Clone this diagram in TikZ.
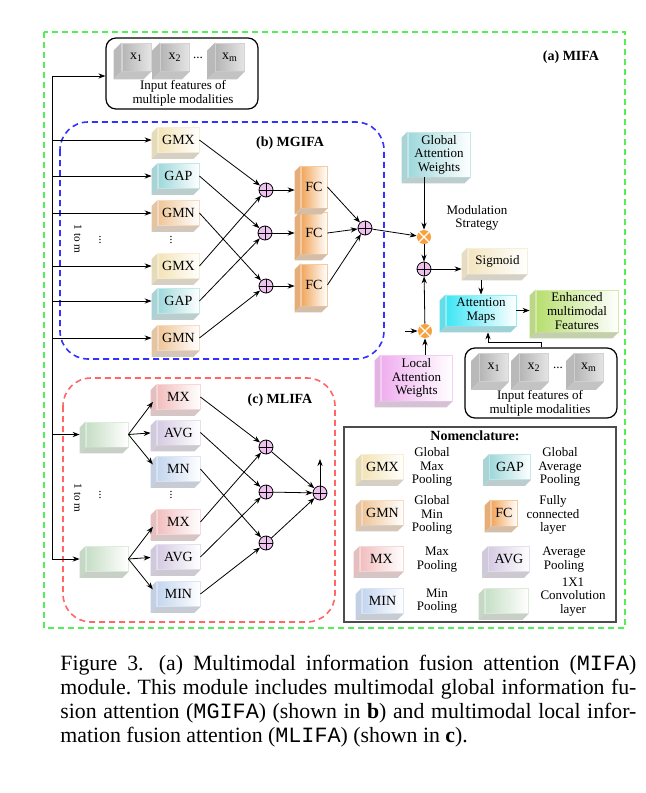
\documentclass[tikz,border=0pt]{standalone}
\usepackage{fontspec}
\setmainfont{Liberation Serif}
\setmonofont{Liberation Mono}
\usetikzlibrary{arrows.meta}

\definecolor{cGMX}{HTML}{F3E3B5}
\definecolor{cGAP}{HTML}{9ED8DB}
\definecolor{cGMN}{HTML}{EFC596}
\definecolor{cFC}{HTML}{F2A55A}
\definecolor{cMX}{HTML}{F2BDBD}
\definecolor{cAVG}{HTML}{D5CAE3}
\definecolor{cMN}{HTML}{C3D5EF}
\definecolor{cCV}{HTML}{C5DEC5}
\definecolor{cIN}{HTML}{B5B5B5}
\definecolor{cGW}{HTML}{9ED8DB}
\definecolor{cSIG}{HTML}{F3E5BF}
\definecolor{cAM}{HTML}{3FE6F5}
\definecolor{cEN}{HTML}{B7DE6E}
\definecolor{cLW}{HTML}{EFAEEF}
\definecolor{cPL}{HTML}{F0C0F0}
\definecolor{cMU}{HTML}{F7A23E}
\definecolor{cOUT}{HTML}{55EE55}

\newcommand\lblfont{\fontsize{7}{8}\selectfont}
\newcommand\txtfont{\fontsize{6.5}{6.8}\selectfont}
% side and bottom face of a box
\newcommand\boxfaces[3][3pt]{%
  \fill[#3!85!gray!85] (#2.north west) -- ++(-#1,-#1) -- ([shift={(-#1,-#1)}]#2.south west) -- (#2.south west) -- cycle;
  \fill[#3!50!gray!60] (#2.south west) -- ++(-#1,-#1) -- ([shift={(-#1,-#1)}]#2.south east) -- (#2.south east) -- cycle;}

\tikzset{
  blk/.style={rectangle, draw=#1!60!white, left color=#1, right color=white, inner sep=0pt, align=center, font=\lblfont},
  pool/.style={minimum width=20.5pt, minimum height=12.5pt},
  fcbox/.style={blk=cFC, minimum width=13pt, minimum height=21pt},
  cube/.style={blk=cIN, right color=cIN!35!white, minimum width=14.5pt, minimum height=14pt},
  inbox/.style={draw, rounded corners=5pt, line width=0.6pt, minimum width=76pt},
  plus/.style={circle, draw, fill=cPL, minimum size=7pt, inner sep=0pt,
    path picture={\draw (path picture bounding box.north) -- (path picture bounding box.south)
      (path picture bounding box.west) -- (path picture bounding box.east);}},
  mul/.style={circle, fill=cMU, minimum size=7pt, inner sep=0pt,
    path picture={\draw[white, line width=0.6pt] (path picture bounding box.north west) -- (path picture bounding box.south east)
      (path picture bounding box.north east) -- (path picture bounding box.south west);}},
  ttl/.style={font=\fontsize{7}{8}\selectfont\bfseries},
  vdots/.style={rotate=90, font=\fontsize{6}{6}\selectfont},
  rangetxt/.style={rotate=-90, font=\fontsize{5.6}{6}\selectfont}
}

\begin{document}
\begin{tikzpicture}[x=0.5pt, y=-0.5pt, >={Stealth[length=3.5pt,width=2.6pt]}, font=\txtfont]
  \useasboundingbox (0,0) rectangle (646,793);

  % frames
  \draw[cOUT, dash pattern=on 3pt off 2pt, line width=1pt] (44,32) rectangle (625,628);
  \draw[blue!80!white, dash pattern=on 3pt off 2pt, line width=0.8pt, rounded corners=14pt] (60,122) rectangle (384,359);
  \draw[red!60!white, dash pattern=on 3pt off 2pt, line width=0.8pt, rounded corners=14pt] (63,378) rectangle (335,622);
  \draw[gray!60!black, line width=0.8pt] (344,427) rectangle (616,622);

  \node[ttl] (ta) at (571,57) {(a) MIFA};
  \node[ttl] (tb) at (290,143) {(b) MGIFA};
  \node[ttl] (tc) at (280,400) {(c) MLIFA};
  \node[ttl] (tn) at (475,436) {Nomenclature:};

  % input features
  \node[inbox, minimum height=35.5pt] (inA) at (182,73.5) {};
  \node[cube] (xa1) at (136.5,57) {x\textsubscript{1}};
  \node[cube] (xa2) at (175,57) {x\textsubscript{2}};
  \node (da) at (198,58) {...};
  \node[cube] (xam) at (230,57) {x\textsubscript{m}};
  \node[align=center] (la) at (183,93.5) {Input features of\\multiple modalities};

  \node[inbox, minimum height=35pt] (inB) at (541,383) {};
  \node[cube] (xb1) at (494,367.5) {x\textsubscript{1}};
  \node[cube] (xb2) at (534,367.5) {x\textsubscript{2}};
  \node (db) at (558,368) {...};
  \node[cube] (xbm) at (589,367.5) {x\textsubscript{m}};
  \node[align=center] (lb) at (540,403.5) {Input features of\\multiple modalities};

  % MGIFA
  \begin{scope}[every node/.append style={pool}]
    \node[blk=cGMX] (gmxa) at (178.5,140) {GMX};
    \node[blk=cGAP] (gapa) at (178.5,176) {GAP};
    \node[blk=cGMN] (gmna) at (178.5,213) {GMN};
    \node[blk=cGMX] (gmxb) at (178.5,266) {GMX};
    \node[blk=cGAP] (gapb) at (178.5,301) {GAP};
    \node[blk=cGMN] (gmnb) at (178.5,338) {GMN};
  \end{scope}
  \node[vdots] (va1) at (171,240) {...};
  \node[vdots] (va2) at (100,240) {...};
  \node[rangetxt] (ma) at (78,239) {1 to m};
  \node[plus] (pa) at (266,190) {};
  \node[plus] (pb) at (265,233) {};
  \node[plus] (pc) at (266,286) {};
  \node[fcbox] (fca) at (314,187) {FC};
  \node[fcbox] (fcb) at (314,233) {FC};
  \node[fcbox] (fcc) at (314,285) {FC};
  \node[plus] (pd) at (365,228) {};

  % attention part
  \node[blk=cGW, font=\txtfont, minimum width=31pt, minimum height=22.5pt] (gaw) at (439,154.5) {Global\\Attention\\Weights};
  \node[align=center] (mod) at (477,218) {Modulation\\Strategy};
  \node[mul] (mua) at (424,237) {};
  \node[plus] (pe) at (424,269) {};
  \node[blk=cSIG, font=\txtfont, minimum width=29.5pt, minimum height=13pt] (sig) at (497.5,261) {Sigmoid};
  \node[blk=cAM, font=\txtfont, minimum width=35pt, minimum height=15.5pt] (am) at (481,310.5) {Attention\\Maps};
  \node[blk=cEN, font=\txtfont, minimum width=41pt, minimum height=21pt] (enh) at (577,311) {Enhanced\\multimodal\\Features};
  \node[blk=cLW, font=\txtfont, minimum width=35.5pt, minimum height=23pt] (law) at (416.5,378) {Local\\Attention\\Weights};
  \node[mul] (mub) at (425,331) {};
  \coordinate (lin) at (405,331);

  % MLIFA
  \node[blk=cCV, minimum width=21pt, minimum height=12.5pt] (conva) at (107,434.5) {};
  \node[blk=cCV, minimum width=21pt, minimum height=12.5pt] (convb) at (107,559) {};
  \begin{scope}[every node/.append style={minimum width=21.5pt, minimum height=12.5pt}]
    \node[blk=cMX] (mxa) at (178.5,397) {MX};
    \node[blk=cAVG] (avga) at (178.5,432.5) {AVG};
    \node[blk=cMN] (mna) at (178.5,469) {MN};
    \node[blk=cMX] (mxb) at (178.5,522) {MX};
    \node[blk=cAVG] (avgb) at (178.5,557) {AVG};
    \node[blk=cMN] (mnb) at (178.5,594) {MIN};
  \end{scope}
  \node[vdots] (vb1) at (171,495) {...};
  \node[vdots] (vb2) at (100,495) {...};
  \node[rangetxt] (mb) at (78,498) {1 to m};
  \node[plus] (qa) at (266,447) {};
  \node[plus] (qb) at (266,492) {};
  \node[plus] (qc) at (266,543) {};
  \node[plus] (qd) at (320,493) {};
  \coordinate (lout) at (320,459);

  % nomenclature
  \node[blk=cGMX, pool] (lgmx) at (382.5,467) {GMX};
  \node[align=center] at (432,467) {Global\\Max\\Pooling};
  \node[blk=cGAP, pool] (lgap) at (510,467) {GAP};
  \node[align=center] at (560,467) {Global\\Average\\Pooling};
  \node[blk=cGMN, pool] (lgmn) at (382.5,512.5) {GMN};
  \node[align=center] at (432,515) {Global\\Min\\Pooling};
  \node[blk=cFC, minimum width=13pt, minimum height=13pt] (lfc) at (504,513) {FC};
  \node[align=center] at (553,515) {Fully\\connected\\layer};
  \node[blk=cMX, pool, minimum width=21.5pt] (lmx) at (381.5,559) {MX};
  \node[align=center] at (437,559.5) {Max\\Pooling};
  \node[blk=cAVG, pool] (lavg) at (509,559) {AVG};
  \node[align=center] at (564,559.5) {Average\\Pooling};
  \node[blk=cMN, pool] (lmin) at (382.5,601) {MIN};
  \node[align=center] at (437,601) {Min\\Pooling};
  \node[blk=cCV, pool, minimum width=21.5pt] (lconv) at (506.5,601) {};
  \node[align=center] at (573,597) {1X1\\Convolution\\layer};

  % faces of the boxes
  \foreach \n/\c in {gmxa/cGMX, gapa/cGAP, gmna/cGMN, gmxb/cGMX, gapb/cGAP, gmnb/cGMN,
      fca/cFC, fcb/cFC, fcc/cFC, gaw/cGW, sig/cSIG, am/cAM, enh/cEN, law/cLW,
      conva/cCV, convb/cCV, mxa/cMX, avga/cAVG, mna/cMN, mxb/cMX, avgb/cAVG, mnb/cMN,
      lgmx/cGMX, lgap/cGAP, lgmn/cGMN, lfc/cFC, lmx/cMX, lavg/cAVG, lmin/cMN, lconv/cCV}
    {\boxfaces{\n}{\c}}
  \foreach \n in {xa1, xa2, xam, xb1, xb2, xbm}
    {\boxfaces[4pt]{\n}{cIN}}

  % trunk
  \coordinate (t0) at (52,76);
  \draw (t0) -- (t0 |- convb);
  \draw[->] (t0) -- (t0 -| inA.west);
  \begin{scope}[shorten >=3pt]
    \path [->] (t0 |- gmxa) edge (gmxa);
    \path [->] (t0 |- gapa) edge (gapa);
    \path [->] (t0 |- gmna) edge (gmna);
    \path [->] (t0 |- gmxb) edge (gmxb);
    \path [->] (t0 |- gapb) edge (gapb);
    \path [->] (t0 |- gmnb) edge (gmnb);
    \path [->] (t0 |- conva) edge (conva);
    \path [->] (t0 |- convb) edge (convb);
    \path [->] (conva.east) edge (mxa.west);
    \path [->] (conva.east) edge (avga.west);
    \path [->] (conva.east) edge (mna.west);
    \path [->] (convb.east) edge (mxb.west);
    \path [->] (convb.east) edge (avgb.west);
    \path [->] (convb.east) edge (mnb.west);
    \path [->] (pa) edge (pa -| fca.west);
    \path [->] (pb) edge (pb -| fcb.west);
    \path [->] (pc) edge (pc -| fcc.west);
    \path [->] (pe) edge (pe -| sig.west);
    \path [->] (am.east) edge (am.east -| enh.west);
  \end{scope}

  % MGIFA connections
  \path [->] (gmxa.east) edge (pa);
  \path [->] (gmxb.east) edge (pa);
  \path [->] (gapa.east) edge (pb);
  \path [->] (gapb.east) edge (pb);
  \path [->] (gmna.east) edge (pc);
  \path [->] (gmnb.east) edge (pc);
  \path [->] (fca.east) edge (pd);
  \path [->] (fcb.east) edge (pd);
  \path [->] (fcc.east) edge (pd);
  \path [->] (pd) edge (mua);

  % MLIFA connections
  \path [->] (mxa.east) edge (qa);
  \path [->] (mxb.east) edge (qa);
  \path [->] (avga.east) edge (qb);
  \path [->] (avgb.east) edge (qb);
  \path [->] (mna.east) edge (qc);
  \path [->] (mnb.east) edge (qc);
  \path [->] (qa) edge (qd);
  \path [->] (qb) edge (qd);
  \path [->] (qc) edge (qd);
  \path [->] (qd) edge (lout);

  % modulation
  \path [->] (mua |- gaw.south) edge (mua);
  \path [->] (mua) edge (pe);
  \path [->] (mub |- law.north) edge (mub);
  \path [->] (mub) edge (pe);
  \path [->] (lin) edge (mub);
  \path [->] ([yshift=-3pt]sig.south -| am.north) edge (am.north);
  \draw[->] (inB.north) -- ++(0,-5) -| ([shift={(3.5pt,-3pt)}]am.south);

  % caption
  \node[anchor=north west, text width=288pt, align=justify, inner sep=0pt, font=\fontsize{10.9}{12}\selectfont] (cap) at (60,655)
    {\noindent\frenchspacing Figure 3.\hspace{0.7em}(a) Multimodal information fusion attention (\texttt{MIFA})\linebreak
     module. This module includes multimodal global information fu-\linebreak
     sion attention (\texttt{MGIFA}) (shown in \textbf{b}) and multimodal local infor-\linebreak
     mation fusion attention (\texttt{MLIFA}) (shown in \textbf{c}).};
\end{tikzpicture}
\end{document}
